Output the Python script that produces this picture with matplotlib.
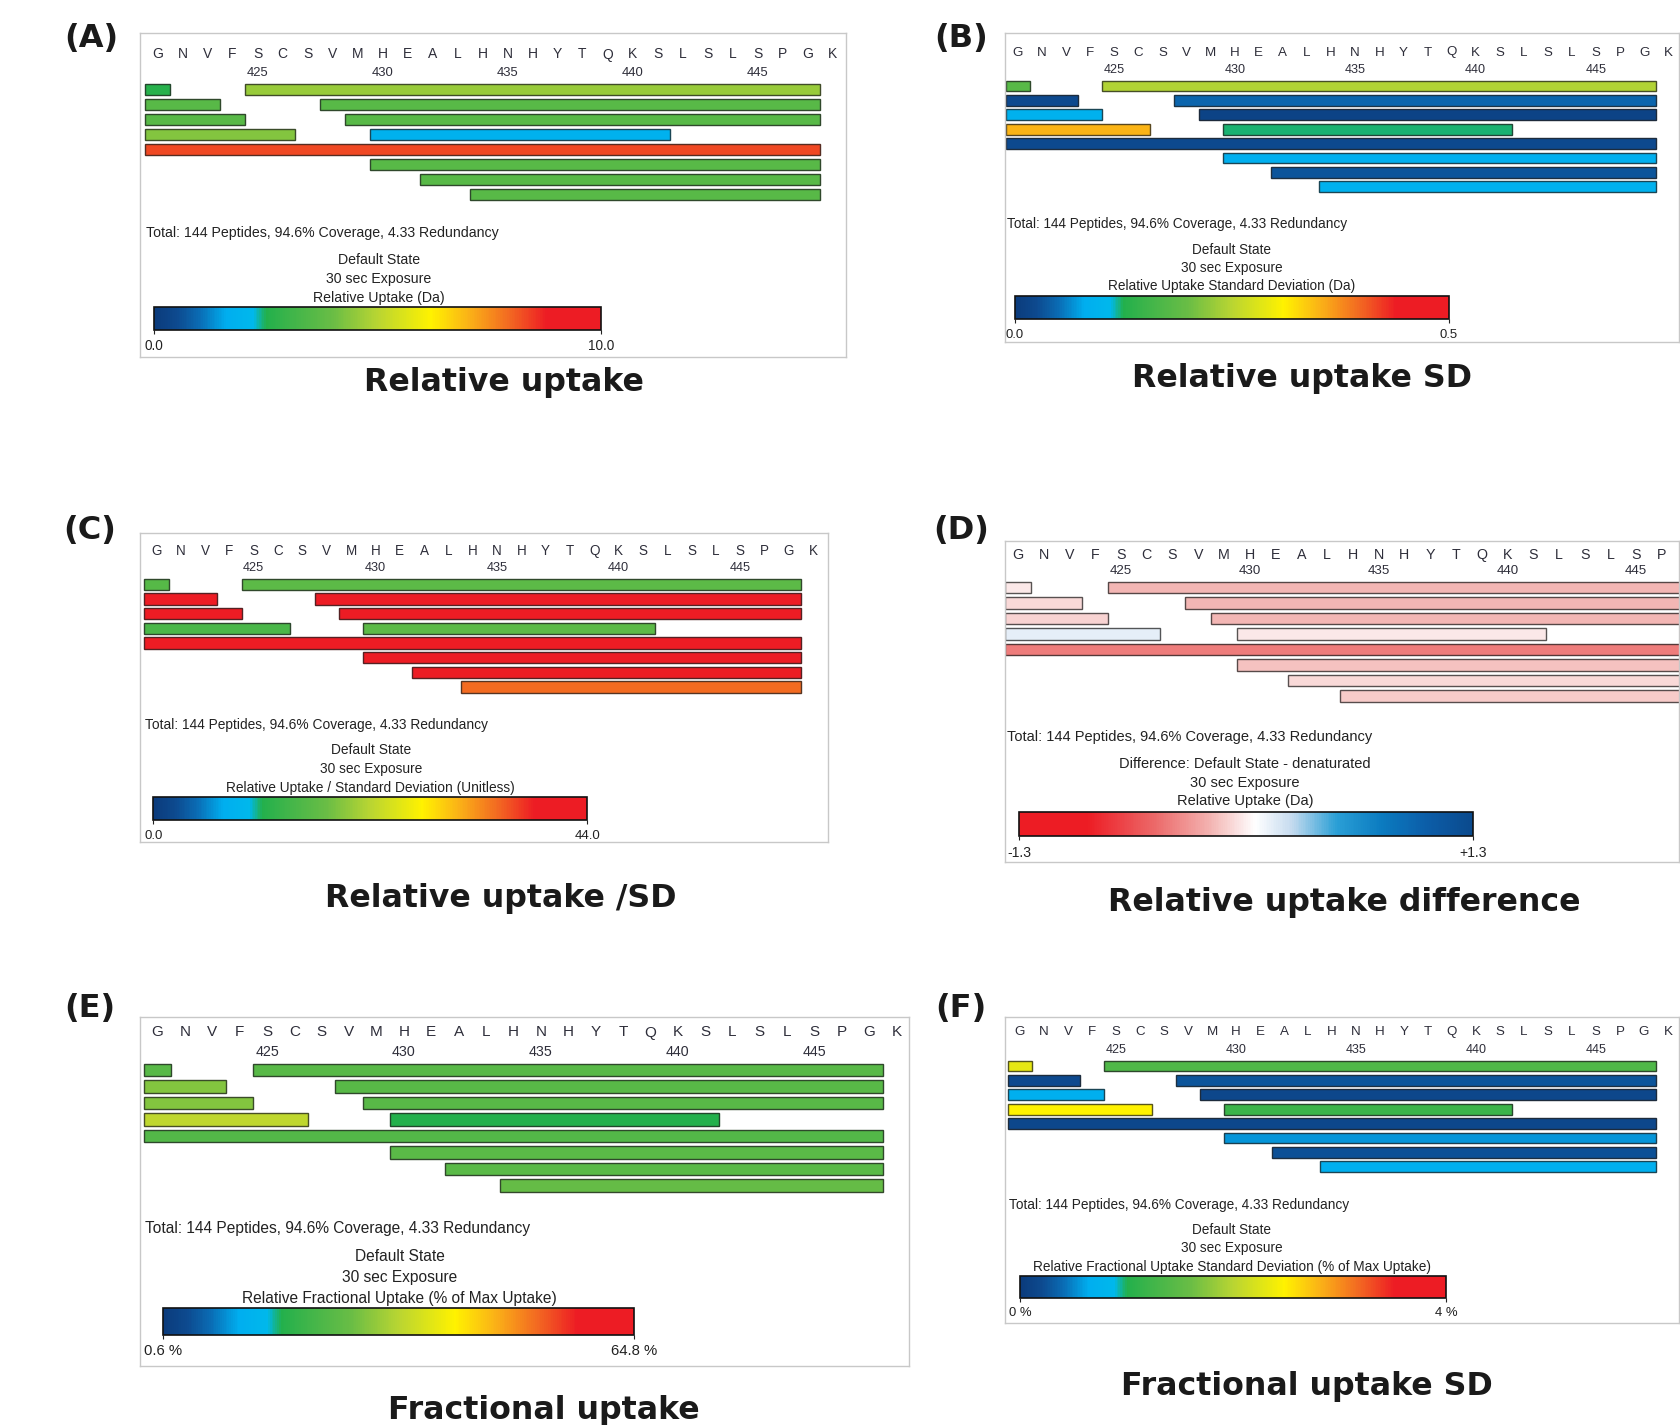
"""Six HDX coverage maps (relative / fractional uptake and their SDs)."""

import matplotlib

matplotlib.use("Agg")
import matplotlib.pyplot as plt
import numpy as np
from matplotlib.cm import ScalarMappable
from matplotlib.colors import LinearSegmentedColormap, Normalize, to_rgb

plt.rcParams["font.family"] = ["Liberation Sans", "DejaVu Sans"]

W, H = 1680, 1425

# ---- data -------------------------------------------------------------
sequence = list("GNVFSCSVMHEALHNHYTQKSLSLSPGK")
first_residue = 421
residue_ticks = [425, 430, 435, 440, 445]

# peptides shown in every panel
pep_start = [421, 425, 421, 428, 421, 429, 421, 430, 421, 430, 432, 434]
pep_end = [421, 447, 423, 447, 424, 447, 426, 441, 447, 447, 447, 447]
pep_row = [0, 0, 1, 1, 2, 2, 3, 3, 4, 5, 6, 7]

rel_uptake = [2.6, 4.6, 3.6, 3.6, 3.6, 3.6, 4.3, 1.8, 8.3, 3.6, 3.6, 3.6]
rel_uptake_sd = [0.18, 0.245, 0.025, 0.045, 0.09, 0.015, 0.35, 0.122, 0.025, 0.085, 0.035, 0.09]
rel_uptake_ratio = [15.8, 16.3, 41.8, 41.8, 41.8, 41.8, 14.5, 16.3, 41.8, 41.8, 41.8, 34.8]
rel_uptake_diff = [-0.03, -0.2, -0.08, -0.2, -0.1, -0.2, 0.15, -0.03, -0.44, -0.16, -0.08, -0.13]
frac_uptake = [23.7, 23.7, 28.2, 23.7, 28.2, 23.7, 33.3, 16.7, 23.1, 24.0, 24.0, 25.5]
frac_uptake_sd = [2.3, 1.36, 0.2, 0.28, 0.68, 0.16, 2.48, 1.2, 0.16, 0.56, 0.24, 0.68]

summary = "Total: 144 Peptides, 94.6% Coverage, 4.33 Redundancy"

panels = [
    dict(tag="(A)", title="Relative uptake", values=rel_uptake, vmin=0.0, vmax=10.0,
         ticks=["0.0", "10.0"], kind="uptake",
         lines=["Default State", "30 sec Exposure", "Relative Uptake (Da)"]),
    dict(tag="(B)", title="Relative uptake SD", values=rel_uptake_sd, vmin=0.0, vmax=0.5,
         ticks=["0.0", "0.5"], kind="uptake",
         lines=["Default State", "30 sec Exposure", "Relative Uptake Standard Deviation (Da)"]),
    dict(tag="(C)", title="Relative uptake /SD", values=rel_uptake_ratio, vmin=0.0, vmax=44.0,
         ticks=["0.0", "44.0"], kind="uptake",
         lines=["Default State", "30 sec Exposure",
                "Relative Uptake / Standard Deviation (Unitless)"]),
    dict(tag="(D)", title="Relative uptake difference", values=rel_uptake_diff, vmin=-1.3, vmax=1.3,
         ticks=["-1.3", "+1.3"], kind="diff",
         lines=["Difference: Default State - denaturated", "30 sec Exposure",
                "Relative Uptake (Da)"]),
    dict(tag="(E)", title="Fractional uptake", values=frac_uptake, vmin=0.6, vmax=64.8,
         ticks=["0.6 %", "64.8 %"], kind="uptake",
         lines=["Default State", "30 sec Exposure",
                "Relative Fractional Uptake (% of Max Uptake)"]),
    dict(tag="(F)", title="Fractional uptake SD", values=frac_uptake_sd, vmin=0.0, vmax=4.0,
         ticks=["0 %", "4 %"], kind="uptake",
         lines=["Default State", "30 sec Exposure",
                "Relative Fractional Uptake Standard Deviation (% of Max Uptake)"]),
]

# ---- layout (pixels, origin top-left) -----------------------------------
layout = [
    dict(box=(140, 33, 846, 357), g=157.5, pitch=25.0, let_y=54.5, num_y=73, row0=89.3, sp=15.05,
         tot=(145.7, 233), mid_x=379, mid_y=(260, 279, 298), cbar=(154.3, 306.7, 601, 329.5),
         title=(503.6, 382), tag=(91, 39)),
    dict(box=(1005, 33, 1679, 342), g=1017.9, pitch=24.09, let_y=52.5, num_y=70, row0=86, sp=14.4,
         tot=(1007, 224), mid_x=1232, mid_y=(249.6, 267.9, 286), cbar=(1014.6, 295.7, 1448.6, 319.3),
         title=(1301.8, 378), tag=(961, 39)),
    dict(box=(140.4, 533, 828.2, 842), g=156.4, pitch=24.33, let_y=551.5, num_y=568.5, row0=584.3,
         sp=14.67, tot=(144.6, 725.5), mid_x=370.7, mid_y=(750, 769.5, 787.5),
         cbar=(153.2, 797, 587.1, 820), title=(500.4, 898.5), tag=(90, 530)),
    dict(box=(1005, 541, 1679, 861.5), g=1017.9, pitch=25.76, let_y=555, num_y=571, row0=587.5,
         sp=15.5, tot=(1007, 736.5), mid_x=1245, mid_y=(764, 783, 801.5),
         cbar=(1019, 811.5, 1473.2, 836), title=(1344.6, 902), tag=(961, 530)),
    dict(box=(140.4, 1017, 908.6, 1365.5), g=157.5, pitch=27.38, let_y=1032.5, num_y=1052, row0=1070,
         sp=16.5, tot=(144.6, 1228), mid_x=399.6, mid_y=(1256.5, 1277.5, 1298),
         cbar=(162.9, 1308, 634.3, 1334.5), title=(544.3, 1410), tag=(90, 1009)),
    dict(box=(1005, 1017, 1679, 1322.5), g=1020, pitch=24.0, let_y=1032, num_y=1050, row0=1066,
         sp=14.4, tot=(1009.3, 1205), mid_x=1232, mid_y=(1230, 1248.2, 1266.5),
         cbar=(1020, 1275.7, 1446.4, 1297.5), title=(1307.1, 1387), tag=(961, 1009)),
]

uptake_cmap = LinearSegmentedColormap.from_list("uptake", [
    (0.00, "#0b3b7c"), (0.05, "#0d4a8f"), (0.10, "#0a6cb4"), (0.16, "#00aeef"),
    (0.22, "#00b8ec"), (0.25, "#22b04c"), (0.30, "#3cb44a"), (0.40, "#6abd45"),
    (0.50, "#b9d532"), (0.62, "#fff200"), (0.70, "#fbb616"), (0.80, "#f26522"),
    (0.88, "#ed1c24"), (1.00, "#ed1c24"),
])
diff_cmap = LinearSegmentedColormap.from_list("diff", [
    (0.00, "#ed1c24"), (0.15, "#ed1c24"), (0.30, "#ec6a6a"), (0.42, "#f3b3b1"),
    (0.52, "#ffffff"), (0.60, "#c6dbef"), (0.70, "#2a9fd6"), (0.80, "#0b7bc0"),
    (0.90, "#0c5da8"), (1.00, "#0b4a8d"),
])


def rect(x0, y0, x1, y1):
    return [x0 / W, 1 - y1 / H, (x1 - x0) / W, (y1 - y0) / H]


fig = plt.figure(figsize=(W / 100, H / 100), dpi=100)
text_color = "#222222"

for panel, lay in zip(panels, layout):
    s = lay["pitch"] / 25.0
    cmap = uptake_cmap if panel["kind"] == "uptake" else diff_cmap
    norm = Normalize(panel["vmin"], panel["vmax"])

    bx0, by0, bx1, by1 = lay["box"]
    ax = fig.add_axes(rect(bx0, by0, bx1, by1))
    x_lo = first_residue + (bx0 - lay["g"]) / lay["pitch"]
    x_hi = first_residue + (bx1 - lay["g"]) / lay["pitch"]
    ax.set_xlim(x_lo, x_hi)
    ax.set_ylim((by1 - lay["row0"]) / lay["sp"], (by0 - lay["row0"]) / lay["sp"])
    ax.set_xticks([])
    ax.set_yticks([])
    for sp in ax.spines.values():
        sp.set_color("#c8c8c8")
        sp.set_linewidth(1.0)

    let_y = (lay["let_y"] - lay["row0"]) / lay["sp"]
    num_y = (lay["num_y"] - lay["row0"]) / lay["sp"]
    for i, aa in enumerate(sequence):
        pos = first_residue + i
        if pos + 0.3 > x_hi:
            continue  # beyond the cropped right edge
        ax.text(pos, let_y, aa, ha="center", va="center", fontsize=10 * s, color="#2e2e3a")
    for r in residue_ticks:
        ax.text(r, num_y, str(r), ha="center", va="center", fontsize=9.4 * s, color="#2e2e3a")

    faces = [cmap(norm(v)) for v in panel["values"]]
    edges = [tuple(0.25 * c + 0.1 for c in to_rgb(f)) for f in faces]
    widths = np.array(pep_end) - np.array(pep_start) + 1
    lefts = np.array(pep_start) - 0.5
    ax.barh(pep_row, widths, left=lefts, height=0.76, color=faces,
            edgecolor=edges, linewidth=1.0)

    fig.text(lay["tot"][0] / W, 1 - lay["tot"][1] / H, summary, ha="left", va="center",
             fontsize=10.2 * s, color=text_color)
    for line, y in zip(panel["lines"], lay["mid_y"]):
        fig.text(lay["mid_x"] / W, 1 - y / H, line, ha="center", va="center",
                 fontsize=10.2 * s, color=text_color)

    cax = fig.add_axes(rect(*lay["cbar"]))
    cb = fig.colorbar(ScalarMappable(norm=norm, cmap=cmap), cax=cax, orientation="horizontal")
    cb.set_ticks([panel["vmin"], panel["vmax"]], labels=panel["ticks"])
    cb.outline.set_linewidth(1.2)
    cb.outline.set_edgecolor("#111111")
    cax.tick_params(length=3, width=0.8, pad=4, labelsize=9.8 * s, colors=text_color)

    fig.text(lay["title"][0] / W, 1 - lay["title"][1] / H, panel["title"], ha="center",
             va="center", fontsize=22.8, fontweight="bold", family="DejaVu Sans", color="#1a1a1a")
    fig.text(lay["tag"][0] / W, 1 - lay["tag"][1] / H, panel["tag"], ha="center",
             va="center", fontsize=23, fontweight="bold", family="DejaVu Sans", color="#1a1a1a")

fig.savefig("out.png", dpi=100)
